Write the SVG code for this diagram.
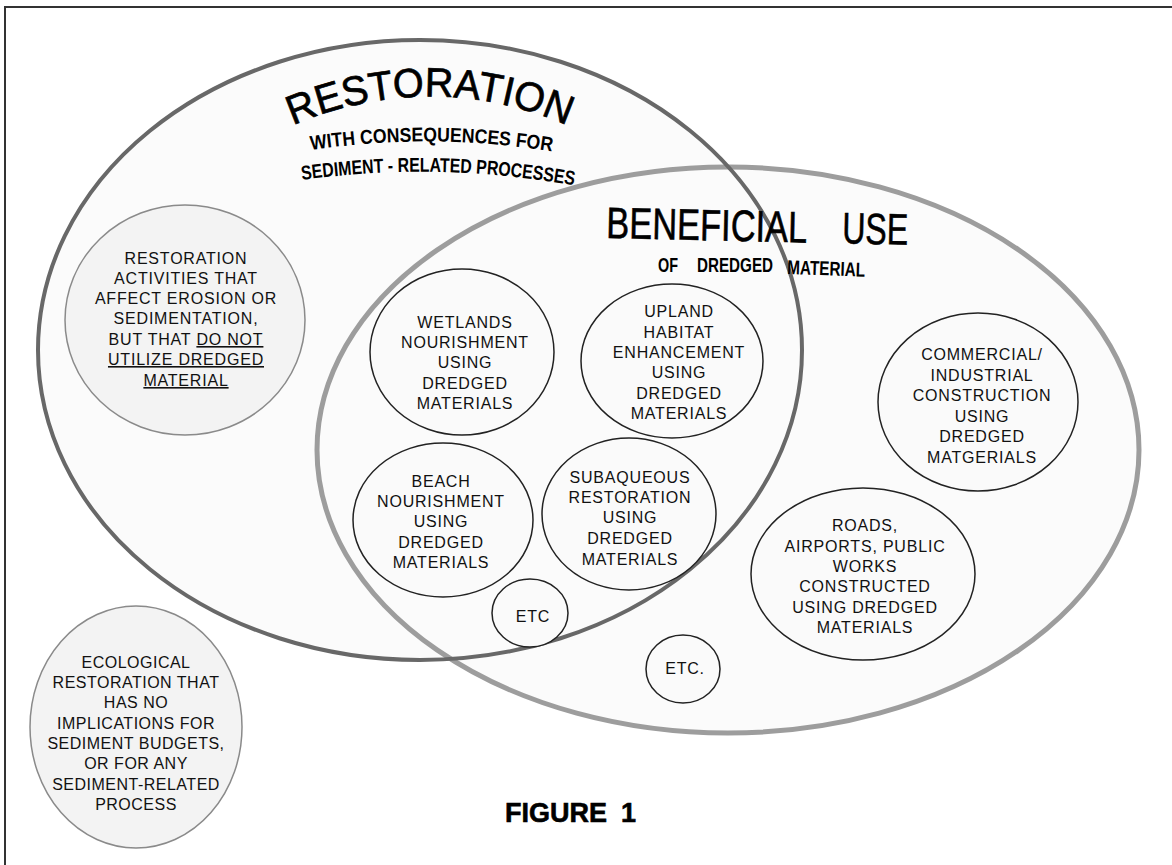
<svg xmlns="http://www.w3.org/2000/svg" width="1172" height="865" viewBox="0 0 1172 865">
<style>
.t{font-family:"Liberation Sans",Arial,sans-serif;font-size:16px;letter-spacing:0.8px;fill:#111;text-anchor:middle}
.in{fill:#fafafa;stroke:#222;stroke-width:1.5}
.out{fill:#f3f3f3;stroke:#8a8a8a;stroke-width:1.5}
.h{font-family:"Liberation Sans",Arial,sans-serif;fill:#000}
.hb{font-family:"Liberation Sans",Arial,sans-serif;font-weight:bold;fill:#000}
</style>
<defs>
<path id="arcR" d="M 281,131 A 340 340 0 0 1 579,131"/>
<path id="arcW" d="M 311,150 Q 433,132 556,152"/>
<path id="arcS" d="M 302,180 Q 440,161 577,186"/>
</defs>
<rect width="1172" height="865" fill="#fff"/>
<g id="frame" stroke="#333" stroke-width="2" fill="none">
<line x1="4" y1="7" x2="1172" y2="7"/>
<line x1="5" y1="7" x2="5" y2="865"/>
</g>
<g id="ellipses">
<ellipse id="restoration-fill" cx="420" cy="350" rx="382" ry="310" fill="#fbfbfb"/>
<ellipse id="beneficial-fill" cx="728" cy="450" rx="411" ry="283" fill="#fbfbfb"/>
<ellipse id="beneficial" cx="728" cy="450" rx="411" ry="283" fill="none" stroke="#9d9d9d" stroke-width="5"/>
<ellipse id="restoration" cx="420" cy="350" rx="382" ry="310" fill="none" stroke="#686868" stroke-width="4"/>
</g>
<g id="titles">
<text class="h" font-size="41" stroke="#000" stroke-width="0.7" text-anchor="middle"><textPath href="#arcR" startOffset="50%" textLength="282" lengthAdjust="spacingAndGlyphs">RESTORATION</textPath></text>
<text class="hb" font-size="20"><textPath href="#arcW" textLength="242" lengthAdjust="spacingAndGlyphs">WITH CONSEQUENCES FOR</textPath></text>
<text class="hb" font-size="20"><textPath href="#arcS" textLength="273" lengthAdjust="spacingAndGlyphs">SEDIMENT - RELATED  PROCESSES</textPath></text>
<g transform="rotate(1.3 606 238)">
<text class="h" font-size="44" x="606" y="238" textLength="201" lengthAdjust="spacingAndGlyphs" stroke="#000" stroke-width="0.6">BENEFICIAL</text>
<text class="h" font-size="44" x="842" y="238" textLength="66" lengthAdjust="spacingAndGlyphs" stroke="#000" stroke-width="0.6">USE</text>
</g>
<text class="hb" font-size="20" x="658" y="272" textLength="20" lengthAdjust="spacingAndGlyphs">OF</text>
<text class="hb" font-size="20" x="697" y="272" textLength="76" lengthAdjust="spacingAndGlyphs">DREDGED</text>
<text class="hb" font-size="20" x="787" y="274" textLength="78" lengthAdjust="spacingAndGlyphs" transform="rotate(2 787 274)">MATERIAL</text>
<text class="hb" font-size="27" x="505" y="822" stroke="#000" stroke-width="0.6">FIGURE</text>
<text class="hb" font-size="27" x="621" y="822" stroke="#000" stroke-width="0.6">1</text>
</g>
<g id="node-restoration-activities">
<ellipse class="out" cx="185" cy="320" rx="120" ry="115"/>
<text class="t"><tspan x="186" y="264">RESTORATION</tspan><tspan x="186" y="284">ACTIVITIES THAT</tspan><tspan x="186" y="304">AFFECT  EROSION OR</tspan><tspan x="186" y="324">SEDIMENTATION,</tspan><tspan x="186" y="345">BUT THAT <tspan text-decoration="underline">DO NOT</tspan></tspan><tspan x="186" y="365" text-decoration="underline">UTILIZE DREDGED</tspan><tspan x="186" y="386" text-decoration="underline">MATERIAL</tspan></text>
</g>
<g id="node-ecological">
<ellipse class="out" cx="136" cy="727" rx="106" ry="121"/>
<text class="t" style="letter-spacing:0.5px"><tspan x="136" y="668">ECOLOGICAL</tspan><tspan x="136" y="688">RESTORATION THAT</tspan><tspan x="136" y="708">HAS NO</tspan><tspan x="136" y="729">IMPLICATIONS FOR</tspan><tspan x="136" y="749">SEDIMENT BUDGETS,</tspan><tspan x="136" y="769">OR FOR ANY</tspan><tspan x="136" y="790">SEDIMENT-RELATED</tspan><tspan x="136" y="810">PROCESS</tspan></text>
</g>
<g id="node-wetlands">
<ellipse class="in" cx="462" cy="352" rx="92" ry="83"/>
<text class="t"><tspan x="465" y="328">WETLANDS</tspan><tspan x="465" y="348">NOURISHMENT</tspan><tspan x="465" y="368">USING</tspan><tspan x="465" y="389">DREDGED</tspan><tspan x="465" y="409">MATERIALS</tspan></text>
</g>
<g id="node-upland">
<ellipse class="in" cx="672" cy="361" rx="91" ry="77"/>
<text class="t"><tspan x="679" y="317">UPLAND</tspan><tspan x="679" y="338">HABITAT</tspan><tspan x="679" y="358">ENHANCEMENT</tspan><tspan x="679" y="378">USING</tspan><tspan x="679" y="399">DREDGED</tspan><tspan x="679" y="419">MATERIALS</tspan></text>
</g>
<g id="node-beach">
<ellipse class="in" cx="443" cy="520" rx="90" ry="77"/>
<text class="t"><tspan x="441" y="487">BEACH</tspan><tspan x="441" y="507">NOURISHMENT</tspan><tspan x="441" y="527">USING</tspan><tspan x="441" y="548">DREDGED</tspan><tspan x="441" y="568">MATERIALS</tspan></text>
</g>
<g id="node-subaqueous">
<ellipse class="in" cx="629" cy="514" rx="87" ry="76"/>
<text class="t"><tspan x="630" y="483">SUBAQUEOUS</tspan><tspan x="630" y="503">RESTORATION</tspan><tspan x="630" y="523">USING</tspan><tspan x="630" y="544">DREDGED</tspan><tspan x="630" y="565">MATERIALS</tspan></text>
</g>
<g id="node-etc1">
<ellipse class="in" cx="530" cy="613" rx="38" ry="34"/>
<text class="t" x="533" y="622">ETC</text>
</g>
<g id="node-commercial">
<ellipse class="in" cx="978" cy="402" rx="100" ry="89"/>
<text class="t"><tspan x="982" y="360">COMMERCIAL/</tspan><tspan x="982" y="381">INDUSTRIAL</tspan><tspan x="982" y="401">CONSTRUCTION</tspan><tspan x="982" y="422">USING</tspan><tspan x="982" y="442">DREDGED</tspan><tspan x="982" y="463">MATGERIALS</tspan></text>
</g>
<g id="node-roads">
<ellipse class="in" cx="863" cy="574" rx="112" ry="86"/>
<text class="t"><tspan x="865" y="531">ROADS,</tspan><tspan x="865" y="552">AIRPORTS, PUBLIC</tspan><tspan x="865" y="572">WORKS</tspan><tspan x="865" y="592">CONSTRUCTED</tspan><tspan x="865" y="613">USING DREDGED</tspan><tspan x="865" y="633">MATERIALS</tspan></text>
</g>
<g id="node-etc2">
<ellipse class="in" cx="683" cy="669" rx="37" ry="34"/>
<text class="t" x="685" y="674">ETC.</text>
</g>
<g id="connectors"/>
</svg>
